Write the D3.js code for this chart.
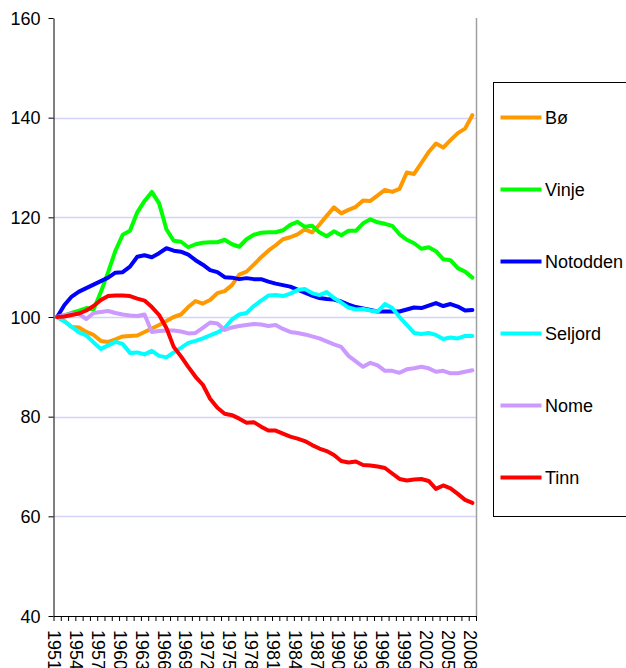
<!DOCTYPE html>
<html>
<head>
<meta charset="utf-8">
<script src="https://cdn.jsdelivr.net/npm/d3@7"></script>
<style>
  body { margin: 0; background: #fff; }
  svg { display: block; font-family: "Liberation Sans", Arial, sans-serif; }
  .grid line { stroke: #d4d4fa; stroke-width: 1.3; }
  .axis path, .axis line { stroke: #000; }
  .axis text { font-size: 18px; fill: #000; }
  .series { fill: none; stroke-width: 4; stroke-linejoin: round; stroke-linecap: round; }
</style>
</head>
<body>
<svg width="626" height="668"></svg>
<script>
// years on the category axis
const years = d3.range(1951, 2009)
const yearLabels = d3.range(1951, 2009, 3)
const yTicks = [40, 60, 80, 100, 120, 140, 160]

// index values (1951 = 100)
const bo = [100, 99.2, 98, 97.9, 97, 96.4, 95.2, 95, 95.5, 96.1,
  96.2, 96.3, 97, 97.7, 98.4, 99.2, 100, 100.5, 102, 103.2,
  102.7, 103.4, 104.8, 105.2, 106.4, 108.5, 109.1, 110.5, 112, 113.3,
  114.4, 115.6, 116, 116.6, 117.6, 117, 118.5, 120.3, 122, 120.8,
  121.5, 122.1, 123.4, 123.3, 124.4, 125.5, 125.1, 125.7, 129, 128.7,
  130.9, 133.1, 134.8, 134, 135.5, 136.9, 137.8, 140.5]
const vinje = [100, 100.3, 100.8, 101.3, 101.8, 101.5, 105, 109, 113.3, 116.5,
  117.3, 121, 123.3, 125.1, 122.8, 117.6, 115.3, 115.1, 114, 114.6,
  114.9, 115, 115, 115.5, 114.6, 114.1, 115.6, 116.5, 116.9, 117,
  117, 117.4, 118.5, 119.1, 118.1, 118.3, 117, 116.2, 117.2, 116.4,
  117.3, 117.3, 118.8, 119.6, 119, 118.7, 118.3, 116.6, 115.5, 114.8,
  113.7, 114, 113.2, 111.6, 111.4, 109.8, 109.1, 107.9]
const notodden = [100, 102.4, 104.1, 105.1, 105.8, 106.5, 107.2, 107.9, 108.9, 109,
  110.1, 112.1, 112.4, 112, 112.8, 113.8, 113.3, 113.1, 112.5, 111.4,
  110.5, 109.4, 109, 108, 107.9, 107.6, 107.8, 107.6, 107.6, 107.1,
  106.7, 106.4, 106.1, 105.5, 104.9, 104.3, 103.8, 103.6, 103.5, 103.1,
  102.5, 102, 101.7, 101.4, 101.1, 101.1, 101.1, 101.1, 101.5, 101.9,
  101.8, 102.3, 102.8, 102.2, 102.6, 102.1, 101.3, 101.4]
const seljord = [100, 99.1, 98, 96.9, 96.3, 94.9, 93.6, 94.3, 95, 94.6,
  92.8, 92.9, 92.5, 93.2, 92.2, 91.9, 92.9, 93.8, 94.8, 95.2,
  95.7, 96.3, 96.9, 97.8, 99.5, 100.5, 100.8, 102.2, 103.3, 104.3,
  104.4, 104.2, 104.7, 105.4, 105.6, 104.8, 104.4, 105, 103.8, 102.9,
  101.9, 101.5, 101.6, 101.3, 101.1, 102.6, 101.8, 100, 98.4, 96.8,
  96.6, 96.8, 96.4, 95.6, 95.9, 95.7, 96.2, 96.2]
const nome = [100, 100.4, 100.6, 100.6, 99.6, 100.8, 101, 101.2, 100.8, 100.5,
  100.3, 100.2, 100.5, 97, 97.2, 97.3, 97.3, 97.1, 96.7, 96.8,
  97.8, 98.9, 98.7, 97.4, 97.9, 98.2, 98.4, 98.6, 98.5, 98.2,
  98.4, 97.6, 97, 96.8, 96.5, 96.1, 95.7, 95.1, 94.5, 94,
  92.2, 91.1, 90, 90.8, 90.3, 89.2, 89.2, 88.8, 89.5, 89.7,
  90, 89.7, 89, 89.2, 88.7, 88.7, 89, 89.3]
const tinn = [100, 100.1, 100.4, 100.7, 101.3, 102.2, 103.4, 104.2, 104.3, 104.3,
  104.2, 103.7, 103.3, 102, 100.4, 97.8, 94, 92.1, 90, 88,
  86.4, 83.6, 81.8, 80.6, 80.3, 79.6, 78.8, 78.9, 78, 77.2,
  77.2, 76.6, 76, 75.6, 75.1, 74.3, 73.6, 73.1, 72.3, 71.1,
  70.8, 71, 70.3, 70.2, 70, 69.7, 68.6, 67.5, 67.2, 67.4,
  67.5, 67.1, 65.5, 66.2, 65.6, 64.5, 63.3, 62.7]

const names = ['Bø', 'Vinje', 'Notodden', 'Seljord', 'Nome', 'Tinn']
const colors = ['#ff9900', '#00ff00', '#0000ff', '#00ffff', '#cc99ff', '#ff0000']

const series = [bo, vinje, notodden, seljord, nome, tinn].map((vals, i) => {
  return { name: names[i], color: colors[i], values: vals }
})

const svg = d3.select('svg')

// plot area
const plotLeft = 53.5, plotRight = 476, plotTop = 18, plotBottom = 616

// categories sit between tick marks, like excel
const x = d3.scaleLinear()
  .domain([years[0] - 0.5, years[years.length - 1] + 0.5])
  .range([plotLeft, plotRight])

const y = d3.scaleLinear()
  .domain([40, 160])
  .range([plotBottom, plotTop])

// gridlines
svg.append('g')
  .attr('class', 'grid')
  .selectAll('line')
  .data(yTicks.filter(d => d > 40 && d < 160))
  .enter()
  .append('line')
  .attr('x1', plotLeft)
  .attr('x2', plotRight)
  .attr('y1', d => Math.round(y(d)) + 0.5)
  .attr('y2', d => Math.round(y(d)) + 0.5)

// right edge of plot area
svg.append('line')
  .attr('x1', plotRight + 0.5)
  .attr('x2', plotRight + 0.5)
  .attr('y1', plotTop)
  .attr('y2', plotBottom)
  .attr('stroke', '#a0a0a0')
  .attr('stroke-width', 1.5)

// lines
const line = d3.line()
  .x((d, i) => x(years[i]))
  .y(d => y(d))

svg.selectAll('path.series')
  .data(series)
  .enter()
  .append('path')
  .attr('class', 'series')
  .attr('stroke', d => d.color)
  .attr('d', d => line(d.values))

// y axis
svg.append('g')
  .attr('class', 'axis')
  .attr('transform', `translate(${plotLeft},0)`)
  .call(d3.axisLeft(y).tickValues(yTicks).tickSize(5).tickSizeOuter(0).tickPadding(8))
  .call(g => g.selectAll('text').attr('dy', '0.35em'))

// x axis: ticks on the category boundaries
const xAxis = svg.append('g')
  .attr('class', 'axis')
  .attr('transform', `translate(0,${plotBottom})`)
  .call(d3.axisBottom(x)
    .tickValues(d3.range(years[0] - 0.5, years[years.length - 1] + 1, 1))
    .tickSize(5)
    .tickSizeOuter(0)
    .tickFormat(''))

// rotated year labels
xAxis.selectAll('text.year')
  .data(yearLabels)
  .enter()
  .append('text')
  .attr('class', 'year')
  .attr('transform', d => `translate(${x(d) - 2.5},14) rotate(90)`)
  .attr('dy', '0.35em')
  .style('text-anchor', 'start')
  .text(d => d)

// legend
const legend = svg.append('g')
  .attr('transform', 'translate(493.5,82.5)')

legend.append('rect')
  .attr('width', 140)
  .attr('height', 434)
  .attr('fill', '#fff')
  .attr('stroke', '#000')
  .attr('stroke-width', 1)

const items = legend.selectAll('g.item')
  .data(series)
  .enter()
  .append('g')
  .attr('class', 'item')
  .attr('transform', (d, i) => `translate(0,${35 + i * 72})`)

items.append('line')
  .attr('x1', 7)
  .attr('x2', 48)
  .attr('stroke', d => d.color)
  .attr('stroke-width', 4)

items.append('text')
  .attr('x', 51.5)
  .attr('dy', '0.35em')
  .style('font-size', '18px')
  .text(d => d.name)
</script>
</body>
</html>
